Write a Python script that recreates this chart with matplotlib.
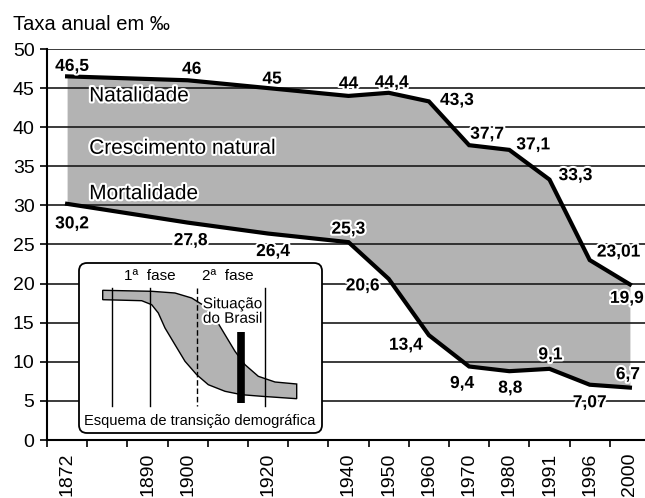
import matplotlib
matplotlib.use('Agg')
import matplotlib.pyplot as plt
import matplotlib.patheffects as pe
from matplotlib.patches import FancyBboxPatch

plt.rcParams['font.family'] = ['Liberation Sans', 'DejaVu Sans']

# eixo x: uma casa por rotulo (vazio = casa sem rotulo)
casas = ['1872', '', '1890', '1900', '', '1920', '', '1940', '1950',
         '1960', '1970', '1980', '1991', '1996', '2000']

anos = ['1872', '1900', '1920', '1940', '1950', '1960', '1970', '1980',
        '1991', '1996', '2000']
natalidade = [46.5, 46, 45, 44, 44.4, 43.3, 37.7, 37.1, 33.3, 23.01, 19.9]
mortalidade = [30.2, 27.8, 26.4, 25.3, 20.6, 13.4, 9.4, 8.8, 9.1, 7.07, 6.7]
rot_nat = ['46,5', '46', '45', '44', '44,4', '43,3', '37,7', '37,1', '33,3', '23,01', '19,9']
rot_mort = ['30,2', '27,8', '26,4', '25,3', '20,6', '13,4', '9,4', '8,8', '9,1', '7,07', '6,7']

# deslocamento dos rotulos (pixels)
desl_nat = [(5, 10), (4, 11), (4, 9), (0, 12), (3, 10), (28, 1), (18, 11),
            (24, 5), (26, 4), (29, 8), (-3, -14)]
desl_mort = [(5, -20), (3, -18), (5, -18), (0, 13), (-26, -7), (-23, -10),
             (-7, -17), (1, -17), (1, 14), (0, -18), (-2, 13)]

# esquema (coordenadas do desenho, em pixels da caixa)
esq_sup_x = [23.7, 72.7, 96, 112.7, 126, 136, 146, 156, 166, 179.3, 196, 217.7]
esq_sup_y = [27.3, 28.3, 30, 35, 43.3, 55, 71.7, 88.3, 101.7, 113.3, 119, 121]
esq_inf_x = [23.7, 62.7, 72.7, 79.3, 86, 96, 106, 117.7, 129.3, 146, 162.7, 182.7, 217.7]
esq_inf_y = [36.7, 37.7, 41.7, 50, 65, 81.7, 98.3, 111.7, 121.7, 128.3, 131.7, 133.3, 135.7]
esq_linhas = [32.7, 71, 186]
esq_tracejada = 117.7

x = [casas.index(a) + 0.5 for a in anos]

W, H = 645, 498
fig = plt.figure(figsize=(W / 100, H / 100), dpi=100)
ax = fig.add_axes([47 / W, (H - 440) / H, 1 - 47 / W, (440 - 49) / H])

ax.fill_between(x, mortalidade, natalidade, color='#b3b3b3', lw=0, zorder=1)
ax.plot(x, natalidade, color='black', lw=3, solid_joinstyle='miter', zorder=3)
ax.plot(x, mortalidade, color='black', lw=3, solid_joinstyle='miter', zorder=3)

halo = [pe.withStroke(linewidth=3, foreground='white')]
for xi, v, t, d in zip(x, natalidade, rot_nat, desl_nat):
    ax.annotate(t, (xi, v), xytext=d, textcoords='offset pixels', ha='center',
                va='center', fontsize=12.5, fontweight='bold', path_effects=halo,
                zorder=5, annotation_clip=False)
for xi, v, t, d in zip(x, mortalidade, rot_mort, desl_mort):
    ax.annotate(t, (xi, v), xytext=d, textcoords='offset pixels', ha='center',
                va='center', fontsize=12.5, fontweight='bold', path_effects=halo,
                zorder=5, annotation_clip=False)

for txt, yv in [('Natalidade', 44.0), ('Crescimento natural', 37.3), ('Mortalidade', 31.5)]:
    ax.text(1.05, yv, txt, fontsize=15, va='center', ha='left',
            path_effects=halo, zorder=5)

ax.set_xlim(0, (W - 47) / 40.2)
ax.set_ylim(0, 50)
ax.set_yticks(range(0, 51, 5))
ax.yaxis.grid(True, color='#1a1a1a', lw=1.2)
ax.set_axisbelow('line')
ax.set_xticks(range(0, 15))
ax.set_xticklabels([])
ax.set_xticks([i + 0.5 for i in range(len(casas))], minor=True)
ax.set_xticklabels(casas, minor=True, rotation=90, fontsize=14)
ax.tick_params(axis='x', which='minor', length=0, pad=9)
ax.tick_params(axis='x', which='major', length=5, width=1.2, direction='out')
ax.tick_params(axis='y', length=5, width=1.2, labelsize=14, pad=4)
for s in ['top', 'right']:
    ax.spines[s].set_visible(False)
ax.spines['left'].set_linewidth(1.5)
ax.spines['bottom'].set_linewidth(1.5)

fig.text(13 / W, 1 - 30 / H, 'Taxa anual em ‰', fontsize=14.5, va='baseline')

# esquema de transicao demografica
ins = fig.add_axes([79 / W, (H - 433) / H, (322 - 79) / W, (433 - 263) / H])
ins.set_xlim(0, 243)
ins.set_ylim(170, 0)
ins.axis('off')
ins.add_patch(FancyBboxPatch((0, 0), 243, 170, boxstyle='round,pad=0,rounding_size=8',
                             fc='white', ec='black', lw=1.3, clip_on=False))
ins.fill(esq_sup_x + esq_inf_x[::-1], esq_sup_y + esq_inf_y[::-1],
         fc='#b3b3b3', ec='black', lw=1, zorder=2)
for lx in esq_linhas:
    ins.plot([lx, lx], [25, 143.3], color='black', lw=1, zorder=3)
ins.plot([esq_tracejada] * 2, [25, 143.3], color='black', lw=1, ls=(0, (4, 2)), zorder=3)
ins.plot([162, 162], [69, 140], color='black', lw=5.5, solid_capstyle='butt', zorder=4)
ins.text(71, 13.3, '1ª  fase', fontsize=11, ha='center', va='center')
ins.text(149.3, 13.3, '2ª  fase', fontsize=11, ha='center', va='center')
ins.text(153.5, 48.5, 'Situação\ndo Brasil', fontsize=11, ha='center', va='center',
         linespacing=1.05, path_effects=halo, zorder=5)
ins.text(121, 158.3, 'Esquema de transição demográfica', fontsize=10.5,
         ha='center', va='center')

fig.savefig('out.png', dpi=100)
